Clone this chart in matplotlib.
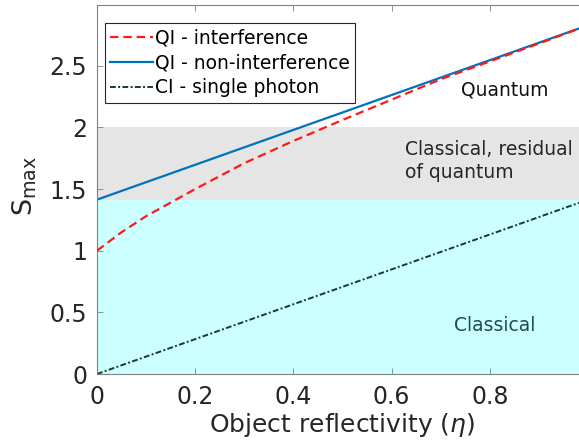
import numpy as np
import matplotlib
matplotlib.use("Agg")
import matplotlib.pyplot as plt

# values
eta = [0.0, 0.05, 0.1, 0.2, 0.3, 0.4, 0.5, 0.6, 0.7, 0.8, 0.9, 1.0]
qi_interf = [1.0, 1.15, 1.28, 1.50, 1.71, 1.89, 2.06, 2.225, 2.39, 2.535, 2.68, 2.828]
eta_lin = [0.0, 1.0]
qi_noninterf = [1.414, 2.828]
ci_single = [0.0, 1.414]

classical_top = 1.414
residual_top = 2.0

plt.rcParams['font.family'] = 'DejaVu Sans'
fig = plt.figure(figsize=(5.79, 4.42), dpi=100)
ax = fig.add_axes([97 / 579, 1 - 374 / 442, 491 / 579, 369.3 / 442])

ax.axhspan(0, classical_top, color='#ccffff', zorder=0, lw=0)
ax.axhspan(classical_top, residual_top, color='#e5e5e5', zorder=0, lw=0)

ax.plot(eta, qi_interf, color='#ff1a1a', lw=1.6, dashes=(3.8, 2.2),
        label='QI - interference', zorder=3)
ax.plot(eta_lin, qi_noninterf, '-', color='#0072bd', lw=1.6,
        label='QI - non-interference', zorder=2)
ax.plot(eta_lin, ci_single, color='#183838', lw=1.4, dashes=(3, 1.2, 1, 1.2),
        label='CI - single photon', zorder=2)

ax.text(0.83, 2.3, 'Quantum', fontsize=13.5, color='#111111', ha='center', va='center')
ax.text(0.628, 1.725, 'Classical, residual\nof quantum', fontsize=13.5, color='#262626',
        ha='left', va='center', linespacing=1.25)
ax.text(0.81, 0.39, 'Classical', fontsize=13.5, color='#1f4c4c', ha='center', va='center')

ax.set_xlim(0, 1)
ax.set_ylim(0, 2.995)
ax.set_xticks([0, 0.2, 0.4, 0.6, 0.8])
ax.set_xticklabels(['0', '0.2', '0.4', '0.6', '0.8'])
ax.set_yticks([0, 0.5, 1, 1.5, 2, 2.5])
ax.set_yticklabels(['0', '0.5', '1', '1.5', '2', '2.5'])
ax.tick_params(direction='in', length=4, width=0.6, top=True, right=True,
               labelsize=17, colors='#262626', color='#808080')
ax.tick_params(axis='x', pad=8)
ax.tick_params(axis='y', pad=7)
for s in ax.spines.values():
    s.set_color('#808080')
    s.set_linewidth(0.8)

ax.set_xlabel(r'Object reflectivity ($\eta$)', fontsize=18, color='#262626', labelpad=1.5)
ax.set_ylabel(r'S$_{\mathrm{max}}$', fontsize=19.5, color='#262626')
ax.yaxis.set_label_coords(-0.118, 0.51)

leg = ax.legend(loc='upper left', bbox_to_anchor=(0.016, 0.95), fontsize=13.5,
                frameon=True, fancybox=False, edgecolor='#262626', framealpha=1,
                handlelength=2.3, handletextpad=0.1, borderpad=0.28, labelspacing=0.32,
                borderaxespad=0)
leg.get_frame().set_linewidth(0.8)

fig.savefig('out.png', dpi=100)
